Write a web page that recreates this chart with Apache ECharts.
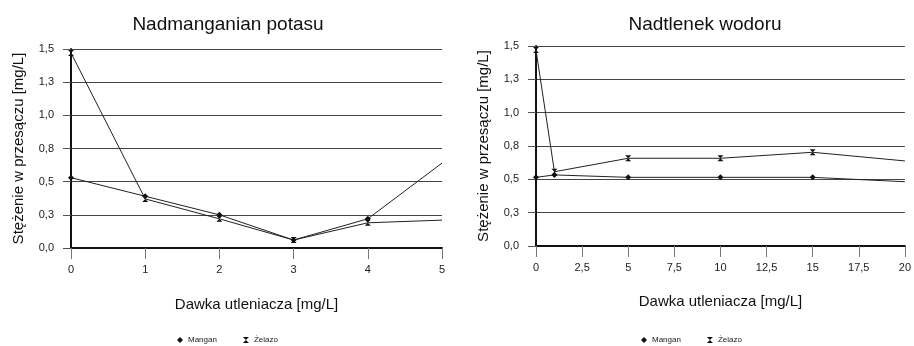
<!DOCTYPE html>
<html><head><meta charset="utf-8">
<script src="https://cdn.jsdelivr.net/npm/echarts@6/dist/echarts.min.js"></script>
<style>html,body{margin:0;padding:0;background:#fff}#c{width:914px;height:346px}</style>
</head><body><div id="c"></div>
<script>
// Left chart: Nadmanganian potasu
const leftTitle = 'Nadmanganian potasu';
const leftDose = [0, 1, 2, 3, 4, 5];
const leftMangan = [0.53, 0.39, 0.25, 0.06, 0.22, 0.64];
const leftZelazo = [1.47, 0.37, 0.22, 0.06, 0.19, 0.21];
// Right chart: Nadtlenek wodoru
const rightTitle = 'Nadtlenek wodoru';
const rightDose = [0, 1, 5, 10, 15, 20];
const rightMangan = [0.515, 0.533, 0.515, 0.515, 0.515, 0.482];
const rightZelazo = [1.47, 0.557, 0.658, 0.658, 0.703, 0.638];
// points drawn without markers (line runs out to the plot edge)
const leftNoMarker = [5];
const rightNoMarker = [20];
const yTickLabels = ['0,0', '0,3', '0,5', '0,8', '1,0', '1,3', '1,5'];
const seriesNames = ['Mangan', 'Żelazo'];
const yName = 'Stężenie w przesączu [mg/L]';
const xName = 'Dawka utleniacza [mg/L]';

const FONT = 'Liberation Sans, Arial, sans-serif';
const HOURGLASS = 'path://M0,0 L10,0 L0,10 L10,10 Z';

function pts(xs, ys, noMarker) {
  return xs.map((x, i) => noMarker.includes(x) ? { value: [x, ys[i]], symbol: 'none' } : [x, ys[i]]);
}

function xAxis(gi, max, interval, gap) {
  return {
    type: 'value', gridIndex: gi, min: 0, max: max, interval: interval,
    name: xName, nameLocation: 'middle', nameGap: gap,
    nameTextStyle: { fontFamily: FONT, fontSize: 15, color: '#111' },
    axisLine: { show: true, onZero: false, lineStyle: { color: '#111', width: 2 } },
    axisTick: { show: true, length: 11, lineStyle: { color: '#777', width: 1 } },
    axisLabel: { fontFamily: FONT, fontSize: 11, color: '#222', margin: 16,
      formatter: v => String(v).replace('.', ',') },
    splitLine: { show: false }
  };
}
function yAxis(gi) {
  return {
    type: 'value', gridIndex: gi, min: 0, max: 1.5, interval: 0.25,
    name: yName, nameLocation: 'middle', nameGap: 45,
    nameTextStyle: { fontFamily: FONT, fontSize: 15, color: '#111' },
    axisLine: { show: true, lineStyle: { color: '#111', width: 2 } },
    axisTick: { show: true, length: 8, lineStyle: { color: '#555' } },
    axisLabel: { fontFamily: FONT, fontSize: 11, color: '#222', margin: 17,
      formatter: v => yTickLabels[Math.round(v / 0.25)] },
    splitLine: { show: true, lineStyle: { color: '#444', width: 1 } }
  };
}
function line(name, gi, data, symbol) {
  return {
    type: 'line', name: name, xAxisIndex: gi, yAxisIndex: gi, data: data,
    symbol: symbol, symbolSize: 6, showAllSymbol: true, clip: true,
    lineStyle: { color: '#222', width: 1 },
    itemStyle: { color: '#111' }, z: 5
  };
}
const legendData = [{ name: seriesNames[0], icon: 'diamond' }, { name: seriesNames[1], icon: HOURGLASS }];

const chart = echarts.init(document.getElementById('c'), null, { renderer: 'canvas' });
chart.setOption({
  animation: false,
  backgroundColor: '#fff',
  title: [
    { text: leftTitle, left: 223, top: 10, textAlign: 'center',
      textStyle: { fontFamily: FONT, fontSize: 19, fontWeight: 'normal', color: '#111' } },
    { text: rightTitle, left: 700, top: 10, textAlign: 'center',
      textStyle: { fontFamily: FONT, fontSize: 19, fontWeight: 'normal', color: '#111' } }
  ],
  legend: [
    { data: legendData, left: 177, top: 336, padding: 0, itemWidth: 6, itemHeight: 6, itemGap: 26,
      textStyle: { fontFamily: FONT, fontSize: 8, color: '#222' } },
    { data: legendData, left: 641, top: 336, padding: 0, itemWidth: 6, itemHeight: 6, itemGap: 26,
      textStyle: { fontFamily: FONT, fontSize: 8, color: '#222' } }
  ],
  grid: [
    { left: 71, top: 49, width: 371, height: 199 },
    { left: 536, top: 46, width: 370, height: 200 }
  ],
  xAxis: [xAxis(0, 5, 1, 49), xAxis(1, 20, 2.5, 48)],
  yAxis: [yAxis(0), yAxis(1)],
  series: [
    line(seriesNames[0], 0, pts(leftDose, leftMangan, leftNoMarker), 'diamond'),
    line(seriesNames[1], 0, pts(leftDose, leftZelazo, leftNoMarker), HOURGLASS),
    line(seriesNames[0], 1, pts(rightDose, rightMangan, rightNoMarker), 'diamond'),
    line(seriesNames[1], 1, pts(rightDose, rightZelazo, rightNoMarker), HOURGLASS)
  ]
});
</script></body></html>
